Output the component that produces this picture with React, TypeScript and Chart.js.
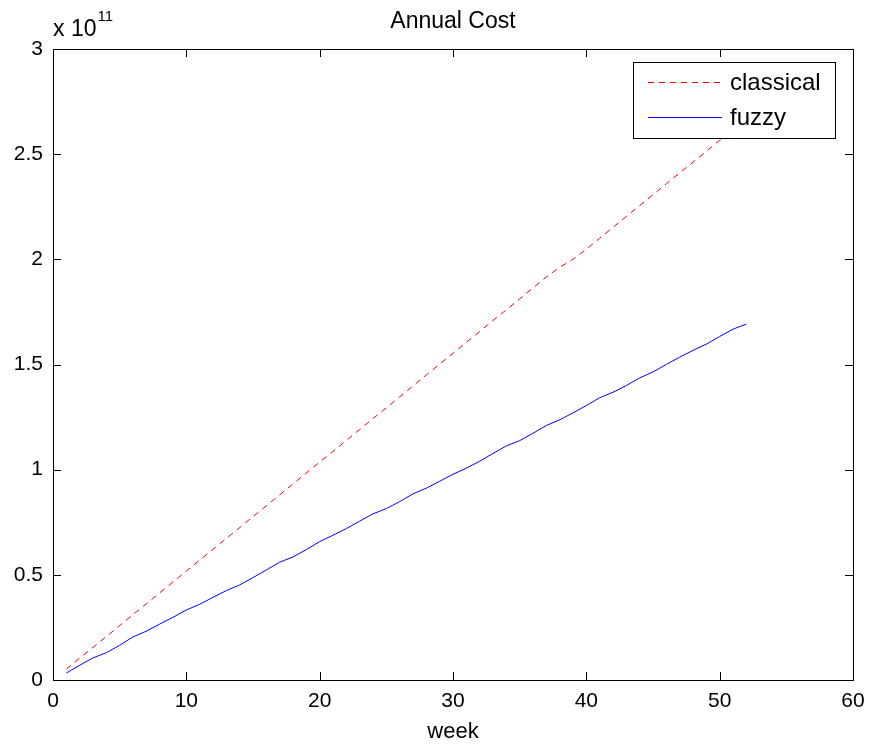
import React, { useEffect, useRef } from "react";
import { Chart, registerables } from "chart.js";

Chart.register(...registerables);

// Data (values in units of 10^11)
const weeks = [
  1, 2, 3, 4, 5, 6, 7, 8, 9, 10, 11, 12, 13, 14, 15, 16, 17, 18, 19, 20, 21, 22, 23, 24, 25, 26,
  27, 28, 29, 30, 31, 32, 33, 34, 35, 36, 37, 38, 39, 40, 41, 42, 43, 44, 45, 46, 47, 48, 49, 50, 51, 52,
];
const classicalCost = [
  0.052, 0.104, 0.155, 0.207, 0.259, 0.311, 0.362, 0.414, 0.466, 0.518, 0.57, 0.621, 0.673,
  0.725, 0.777, 0.828, 0.88, 0.932, 0.984, 1.036, 1.087, 1.139, 1.191, 1.243, 1.294, 1.346,
  1.398, 1.45, 1.502, 1.553, 1.605, 1.657, 1.709, 1.76, 1.812, 1.864, 1.916, 1.962, 2.0, 2.048,
  2.1, 2.152, 2.204, 2.255, 2.307, 2.359, 2.411, 2.462, 2.514, 2.566, 2.618, 2.67,
];
const fuzzyCost = [
  0.033, 0.07, 0.105, 0.13, 0.165, 0.205, 0.232, 0.266, 0.298, 0.333, 0.36, 0.393, 0.425,
  0.452, 0.487, 0.523, 0.56, 0.585, 0.62, 0.658, 0.688, 0.72, 0.755, 0.79, 0.815, 0.848,
  0.885, 0.912, 0.945, 0.978, 1.007, 1.04, 1.077, 1.113, 1.138, 1.173, 1.21, 1.237, 1.27, 1.305,
  1.342, 1.368, 1.4, 1.436, 1.465, 1.5, 1.535, 1.567, 1.597, 1.633, 1.668, 1.692,
];
const xTicks = [0, 10, 20, 30, 40, 50, 60];
const yTicks = [0, 0.5, 1, 1.5, 2, 2.5, 3];
const chartTitle = "Annual Cost";
const xLabel = "week";
const yExponent = "11";
const seriesNames = ["classical", "fuzzy"];
const seriesColors = ["#ff0000", "#0000ff"];

const FONT = '"Liberation Sans", Arial, Helvetica, sans-serif';

export default function App() {
  const ref = useRef<HTMLCanvasElement>(null);

  useEffect(() => {
    document.body.style.margin = "0";
    const canvas = ref.current;
    if (!canvas) return;

    const decor = {
      id: "matlabDecor",
      afterDatasetsDraw(chart: any) {
        const { ctx, chartArea: a } = chart;
        ctx.save();
        const lx = a.right - 220;
        const ly = a.top + 13;
        const lw = 202;
        const lh = 76;
        ctx.fillStyle = "#ffffff";
        ctx.fillRect(lx, ly, lw, lh);
        ctx.strokeStyle = "#000000";
        ctx.lineWidth = 1;
        ctx.strokeRect(lx + 0.5, ly + 0.5, lw, lh);
        const rows = [ly + 20, ly + 55];
        seriesNames.forEach((name, i) => {
          ctx.beginPath();
          ctx.strokeStyle = seriesColors[i];
          ctx.setLineDash(i === 0 ? [6, 5] : []);
          ctx.moveTo(lx + 15, rows[i] + 0.5);
          ctx.lineTo(lx + 89, rows[i] + 0.5);
          ctx.stroke();
          ctx.setLineDash([]);
          ctx.fillStyle = "#000000";
          ctx.font = `24px ${FONT}`;
          ctx.textAlign = "left";
          ctx.textBaseline = "middle";
          ctx.fillText(name, lx + 97, rows[i] + 1);
        });
        ctx.restore();
      },
      afterDraw(chart: any) {
        const { ctx, chartArea: a, scales } = chart;
        const xs = scales.x;
        const ys = scales.y;
        ctx.save();
        ctx.strokeStyle = "#000000";
        ctx.lineWidth = 1;
        ctx.strokeRect(a.left + 0.5, a.top + 0.5, a.right - a.left, a.bottom - a.top);
        const tl = 8;
        ctx.beginPath();
        xTicks.forEach((v) => {
          const px = Math.round(xs.getPixelForValue(v)) + 0.5;
          ctx.moveTo(px, a.bottom);
          ctx.lineTo(px, a.bottom - tl);
          ctx.moveTo(px, a.top);
          ctx.lineTo(px, a.top + tl);
        });
        yTicks.forEach((v) => {
          const py = Math.round(ys.getPixelForValue(v)) + 0.5;
          ctx.moveTo(a.left, py);
          ctx.lineTo(a.left + tl, py);
          ctx.moveTo(a.right, py);
          ctx.lineTo(a.right - tl, py);
        });
        ctx.stroke();

        ctx.fillStyle = "#000000";
        const cx = (a.left + a.right) / 2;
        ctx.textAlign = "center";
        ctx.textBaseline = "alphabetic";
        ctx.font = `23px ${FONT}`;
        ctx.fillText(chartTitle, cx, 28);
        ctx.font = `22px ${FONT}`;
        ctx.fillText(xLabel, cx, 738);

        ctx.textAlign = "left";
        ctx.font = `23px ${FONT}`;
        const base = "x 10";
        ctx.fillText(base, a.left, 36);
        const w = ctx.measureText(base).width;
        ctx.font = `15px ${FONT}`;
        ctx.fillText(yExponent, a.left + w + 1, 21);
        ctx.restore();
      },
    };

    const chart = new Chart(canvas, {
      type: "line",
      data: {
        datasets: [
          {
            label: seriesNames[0],
            data: weeks.map((w, i) => ({ x: w, y: classicalCost[i] })),
            borderColor: seriesColors[0],
            borderWidth: 1,
            borderDash: [6, 5],
            pointRadius: 0,
            tension: 0,
            fill: false,
          },
          {
            label: seriesNames[1],
            data: weeks.map((w, i) => ({ x: w, y: fuzzyCost[i] })),
            borderColor: seriesColors[1],
            borderWidth: 1,
            pointRadius: 0,
            tension: 0,
            fill: false,
          },
        ],
      },
      options: {
        animation: false,
        responsive: false,
        devicePixelRatio: 1,
        layout: { padding: { top: 49, right: 17, left: 0, bottom: 0 } },
        plugins: {
          legend: { display: false },
          title: { display: false },
          tooltip: { enabled: false },
        },
        scales: {
          x: {
            type: "linear",
            min: 0,
            max: 60,
            afterFit: (s: any) => {
              s.height = 67;
              s.paddingLeft = 0;
              s.paddingRight = 0;
            },
            afterBuildTicks: (s: any) => {
              s.ticks = xTicks.map((v) => ({ value: v }));
            },
            grid: { display: false, drawTicks: false },
            border: { display: false },
            ticks: {
              padding: 9,
              color: "#000000",
              font: { family: FONT, size: 21 },
              maxRotation: 0,
              autoSkip: false,
            },
          },
          y: {
            type: "linear",
            min: 0,
            max: 3,
            afterFit: (s: any) => {
              s.width = 53;
              s.paddingTop = 0;
              s.paddingBottom = 0;
            },
            afterBuildTicks: (s: any) => {
              s.ticks = yTicks.map((v) => ({ value: v }));
            },
            grid: { display: false, drawTicks: false },
            border: { display: false },
            ticks: {
              padding: 10,
              color: "#000000",
              font: { family: FONT, size: 21 },
              autoSkip: false,
              callback: (v: any) => String(v),
            },
          },
        },
      },
      plugins: [decor],
    });

    return () => chart.destroy();
  }, []);

  return (
    <div style={{ width: 870, height: 747, background: "#ffffff" }}>
      <canvas ref={ref} width={870} height={747} style={{ display: "block" }} />
    </div>
  );
}
